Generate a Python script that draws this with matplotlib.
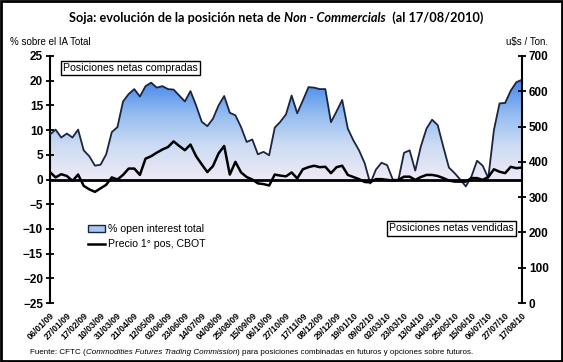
import numpy as np
import pandas as pd
import matplotlib
matplotlib.use('Agg')
import matplotlib.pyplot as plt
from matplotlib.colors import LinearSegmentedColormap
from matplotlib.patches import Rectangle, Patch
from matplotlib.lines import Line2D

plt.rcParams['font.family'] = ['Liberation Sans', 'DejaVu Sans']

# semanas (martes) 06/01/09 .. 17/08/10
fechas = pd.date_range('2009-01-06', '2010-08-17', freq='7D')

# % open interest total (posicion neta non-commercials)
oi = [9.1, 10.1, 8.5, 9.3, 8.5, 10.1, 5.9, 4.7, 2.8, 3.0,
      5.1, 9.6, 10.6, 15.8, 17.3, 18.3, 16.8, 18.9, 19.6, 18.6,
      18.9, 18.3, 18.2, 17.0, 15.8, 17.9, 15.0, 11.7, 10.8, 12.3,
      15.0, 16.9, 13.5, 13.0, 10.6, 7.6, 8.1, 5.1, 5.6, 4.9,
      10.5, 11.7, 13.2, 17.0, 13.4, 16.0, 18.7, 18.6, 18.3, 18.3,
      11.6, 13.8, 16.1, 10.3, 7.9, 5.9, 3.3, -0.8, 2.0, 3.4,
      2.9, 0.0, -0.1, 5.4, 5.9, 1.8, 6.7, 10.3, 12.1, 11.0,
      6.6, 2.4, 1.3, 0.0, -1.4, 0.6, 3.8, 2.8, 0.3, 10.0,
      15.4, 15.5, 18.0, 19.7, 20.2]

# precio 1a posicion CBOT, u$s/ton
precio = [371, 356, 365, 360, 346, 364, 332, 322, 315, 325,
          335, 356, 350, 363, 381, 381, 363, 409, 416, 426,
          435, 442, 458, 445, 433, 449, 416, 393, 371, 388,
          424, 445, 364, 400, 370, 357, 350, 339, 337, 333,
          364, 361, 359, 370, 353, 379, 385, 389, 385, 386,
          368, 385, 389, 363, 357, 351, 343, 342, 351, 351,
          349, 347, 349, 358, 358, 349, 357, 363, 363, 360,
          354, 347, 344, 344, 344, 354, 354, 349, 357, 379,
          372, 368, 386, 382, 384]

x = np.arange(len(fechas))
etiquetas = [d.strftime('%d/%m/%y') for d in fechas[::3]]

W, H = 563, 362
fig = plt.figure(figsize=(W / 100, H / 100), dpi=100)
ax = fig.add_axes([50 / W, 59 / H, 472 / W, 247 / H])

# area con degrade
poly = ax.fill_between(x, 0, oi, facecolor='none', edgecolor='none')
cmap = LinearSegmentedColormap.from_list('azul', ['#efe9f6', '#cddcf3', '#92bbf0', '#4587ea'])
yy = np.linspace(-3, 21, 300).reshape(-1, 1)
im = ax.imshow(yy, extent=[0, 84, -3, 21], origin='lower', aspect='auto',
               cmap=cmap, vmin=0, vmax=20, zorder=1)
im.set_clip_path(poly.get_paths()[0], transform=ax.transData)
ax.plot(x, oi, color='#1b2540', lw=1.3, zorder=3)
ax.axhline(0, color='black', lw=2, zorder=4)

ax.set_xlim(0, 84)
ax.set_ylim(-25, 25)
ax.set_yticks(np.arange(-25, 26, 5))
ax.set_xticks(x[::3])
ax.set_xticklabels(etiquetas, rotation=45, ha='right', rotation_mode='anchor',
                   fontsize=6.3, fontweight='bold')
ax.tick_params(axis='x', length=0, pad=6)
ax.tick_params(axis='y', direction='inout', length=6, width=1.3, labelsize=8.5, pad=2)
for lb in ax.get_yticklabels():
    lb.set_fontweight('bold')
for s in ['top', 'bottom', 'right']:
    ax.spines[s].set_visible(False)
ax.spines['left'].set_linewidth(1.5)

ax2 = ax.twinx()
ax2.plot(x, precio, color='black', lw=1.8, zorder=5)
ax2.set_ylim(0, 700)
ax2.set_yticks(np.arange(0, 701, 100))
ax2.tick_params(axis='y', direction='inout', length=6, width=1.3, labelsize=8.5, pad=2)
for lb in ax2.get_yticklabels():
    lb.set_fontweight('bold')
for s in ['top', 'bottom', 'left']:
    ax2.spines[s].set_visible(False)
ax2.spines['right'].set_linewidth(1.5)

caja = dict(boxstyle='square,pad=0.2', fc='white', ec='black', lw=1)
ax.text(0.027, 0.972, 'Posiciones netas compradas', transform=ax.transAxes,
        fontsize=7.6, va='top', ha='left', bbox=caja, zorder=6)
ax.text(0.718, 0.322, 'Posiciones netas vendidas', transform=ax.transAxes,
        fontsize=7.6, va='top', ha='left', bbox=caja, zorder=6)

handles = [Patch(facecolor='#a9c6ef', edgecolor='#1b2540', lw=1),
           Line2D([], [], color='black', lw=1.8)]
ax.legend(handles, ['% open interest total', 'Precio 1° pos, CBOT'],
          loc='lower left', bbox_to_anchor=(0.06, 0.18), frameon=False,
          fontsize=7.6, handlelength=1.6, handleheight=0.6, handletextpad=0.3,
          labelspacing=0.45)

fig.text(10 / W, 1 - 42 / H, '% sobre el IA Total', fontsize=7, va='center')
fig.text(548 / W, 1 - 42 / H, r'u\$s / Ton.', fontsize=7, va='center', ha='right')

rend = fig.canvas.get_renderer()


def texto_mixto(xc, y, partes, size, family=None, centrar=True):
    ts = []
    for s, kw in partes:
        kw = dict(kw)
        if family:
            kw['family'] = family
        ts.append(fig.text(0, y, s, fontsize=size, va='center', **kw))
    anchos = [t.get_window_extent(rend).width for t in ts]
    pos = xc * W - sum(anchos) / 2 if centrar else xc * W
    for t, w in zip(ts, anchos):
        t.set_x(pos / W)
        pos += w


texto_mixto(276 / W, 1 - 18 / H,
            [('Soja: evolución de la posición neta de ', dict(weight='bold')),
             ('Non - Commercials', dict(weight='bold', style='italic')),
             ('  (al 17/08/2010)', dict(weight='bold'))],
            9.2, family=['Lato', 'DejaVu Sans'])

texto_mixto(30 / W, 1 - 352 / H,
            [('Fuente: CFTC (', {}),
             ('Commodities Futures Trading Commission', dict(style='italic')),
             (') para posiciones combinadas en futuros y opciones sobre futuros.', {})],
            5.8, centrar=False)

fig.patches.append(Rectangle((0.002, 0.003), 0.996, 0.994, transform=fig.transFigure,
                             fill=False, ec='black', lw=2))

fig.savefig('out.png', dpi=100)
